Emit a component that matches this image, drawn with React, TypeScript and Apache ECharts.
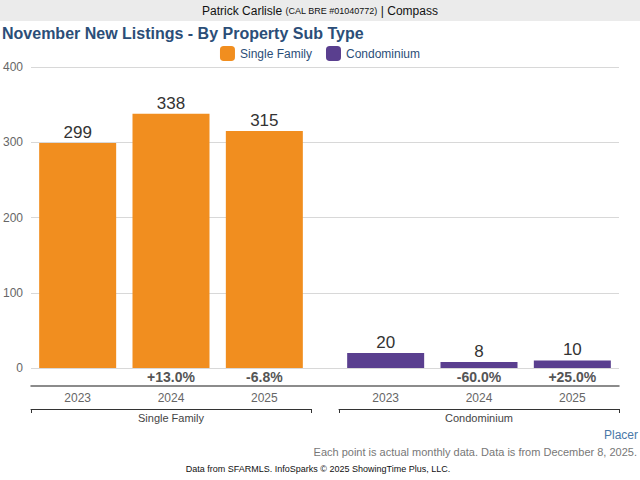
import React, { useEffect, useRef } from "react";
import * as echarts from "echarts";

const years = ["2023", "2024", "2025"];
const singleFamily = [299, 338, 315];
const condominium = [20, 8, 10];
const sfChange = ["", "+13.0%", "-6.8%"];
const condoChange = ["", "-60.0%", "+25.0%"];
const groups = ["Single Family", "Condominium"];
const yTicks = { min: 0, max: 400, interval: 100 };

const ORANGE = "#f18e1f";
const PURPLE = "#5a3f8f";
const BLUE = "#2b4e78";
const FONT = "Liberation Sans, Arial, sans-serif";

export default function App() {
  const ref = useRef<HTMLDivElement>(null);
  useEffect(() => {
    if (!ref.current) return;
    const chart = echarts.init(ref.current, undefined, { renderer: "svg" });
    const grids = [
      { left: 31, right: 21, top: 67, bottom: 112 },
      { left: 31, width: 280, top: 67, bottom: 112 },
      { left: 339, width: 280, top: 67, bottom: 112 },
    ];
    const makeX = (gi: number, pct: string[], group: string) => [
      {
        type: "category",
        gridIndex: gi,
        position: "bottom",
        data: years,
        axisLine: { show: false },
        axisTick: { show: false },
        axisLabel: {
          margin: 2,
          formatter: (_v: string, i: number) => pct[i],
          fontFamily: FONT,
          fontSize: 14,
          fontWeight: "bold",
          color: "#555",
        },
      },
      {
        type: "category",
        gridIndex: gi,
        position: "bottom",
        data: years,
        offset: 18,
        axisLine: { show: false },
        axisTick: { show: false },
        axisLabel: { margin: 6, fontFamily: FONT, fontSize: 12, color: "#666" },
      },
      {
        type: "category",
        gridIndex: gi,
        position: "bottom",
        data: [group],
        offset: 41,
        axisLine: { show: true, onZero: false, lineStyle: { color: "#333", width: 1 } },
        axisTick: { show: true, length: 4, lineStyle: { color: "#333" } },
        axisLabel: { margin: 3, fontFamily: FONT, fontSize: 11, color: "#444" },
      },
    ];
    const option = {
      animation: false,
      textStyle: { fontFamily: FONT },
      grid: grids,
      legend: {
        top: 41,
        left: "center",
        itemWidth: 15,
        itemHeight: 15,
        itemGap: 14,
        icon: "roundRect",
        textStyle: { color: BLUE, fontSize: 12, fontFamily: FONT },
        data: groups,
      },
      xAxis: [
        {
          type: "value",
          gridIndex: 0,
          position: "bottom",
          min: 0,
          max: 1,
          offset: 18,
          axisLine: { show: true, onZero: false, lineStyle: { color: "#666", width: 1.5 } },
          axisTick: { show: false },
          axisLabel: { show: false },
          splitLine: { show: false },
        },
        ...makeX(1, sfChange, groups[0]),
        ...makeX(2, condoChange, groups[1]),
      ],
      yAxis: [
        {
          type: "value",
          gridIndex: 0,
          ...yTicks,
          axisLine: { show: false },
          axisTick: { show: false },
          splitLine: { lineStyle: { color: "#d8d8d8" } },
          axisLabel: { margin: 8, fontFamily: FONT, fontSize: 12, color: "#666" },
        },
        { type: "value", gridIndex: 1, ...yTicks, show: false },
        { type: "value", gridIndex: 2, ...yTicks, show: false },
      ],
      series: [
        {
          name: groups[0],
          type: "bar",
          xAxisIndex: 1,
          yAxisIndex: 1,
          data: singleFamily,
          barCategoryGap: "17.5%",
          itemStyle: { color: ORANGE },
          label: { show: true, position: "top", distance: 2, fontSize: 17, color: "#333", fontFamily: FONT },
        },
        {
          name: groups[1],
          type: "bar",
          xAxisIndex: 4,
          yAxisIndex: 2,
          data: condominium,
          barCategoryGap: "17.5%",
          itemStyle: { color: PURPLE },
          label: { show: true, position: "top", distance: 2, fontSize: 17, color: "#333", fontFamily: FONT },
        },
      ],
      graphic: [
        { type: "rect", shape: { x: 0, y: 0, width: 640, height: 21 }, style: { fill: "#ebebeb" }, silent: true },
        {
          type: "text",
          x: 320,
          y: 11,
          style: {
            text: "{a|Patrick Carlisle }{b|(CAL BRE #01040772)}{a| | Compass}",
            align: "center",
            verticalAlign: "middle",
            rich: {
              a: { fontSize: 12, fill: "#111", fontFamily: FONT },
              b: { fontSize: 9, fill: "#111", fontFamily: FONT },
            },
          },
        },
        {
          type: "text",
          x: 2,
          y: 33,
          style: {
            text: "November New Listings - By Property Sub Type",
            fontSize: 16,
            fontWeight: "bold",
            fill: BLUE,
            fontFamily: FONT,
            verticalAlign: "middle",
          },
        },
        {
          type: "text",
          x: 638,
          y: 435,
          style: { text: "Placer", fontSize: 12, fill: "#4a78a8", fontFamily: FONT, align: "right", verticalAlign: "middle" },
        },
        {
          type: "text",
          x: 637,
          y: 452,
          style: {
            text: "Each point is actual monthly data. Data is from December 8, 2025.",
            fontSize: 11,
            fill: "#777",
            fontFamily: FONT,
            align: "right",
            verticalAlign: "middle",
          },
        },
        {
          type: "text",
          x: 318,
          y: 469,
          style: {
            text: "Data from SFARMLS. InfoSparks © 2025 ShowingTime Plus, LLC.",
            fontSize: 9,
            fill: "#111",
            fontFamily: FONT,
            align: "center",
            verticalAlign: "middle",
          },
        },
      ],
    };
    chart.setOption(option as any);
    return () => chart.dispose();
  }, []);
  return (
    <div
      ref={ref}
      style={{ position: "fixed", left: 0, top: 0, width: 640, height: 480, background: "#fff" }}
    />
  );
}
